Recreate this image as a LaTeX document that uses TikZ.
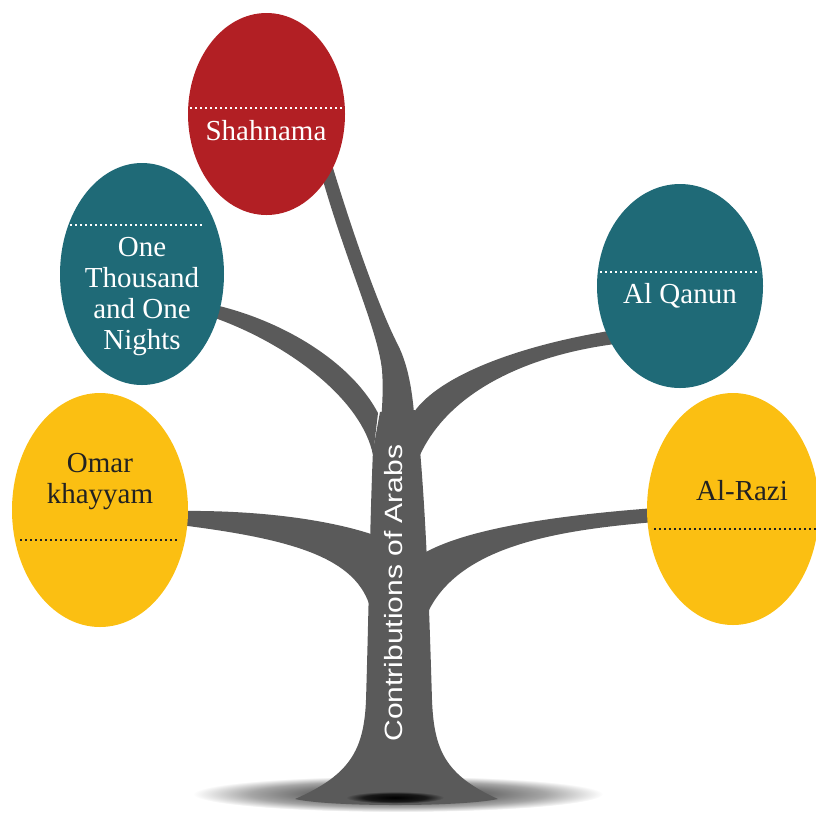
\documentclass[tikz,border=0pt]{standalone}
\usepackage{fontspec}
\setmainfont{Liberation Serif}
\setsansfont{Liberation Sans}
\usetikzlibrary{shapes.geometric}
\definecolor{cred}{HTML}{B21F24}
\definecolor{cteal}{HTML}{1F6A77}
\definecolor{cyel}{HTML}{FBBF12}
\definecolor{cgray}{HTML}{5A5A5A}
\definecolor{cdark}{HTML}{222222}
\pgfdeclareradialshading{groundsh}{\pgfpoint{0bp}{0bp}}{color(0bp)=(black!75); color(10bp)=(black!60); color(18bp)=(black!35); color(25bp)=(white); color(50bp)=(white)}
\pgfdeclareradialshading{holesh}{\pgfpoint{0bp}{0bp}}{color(0bp)=(black); color(16bp)=(black!90); color(25bp)=(cgray); color(50bp)=(cgray)}
\begin{document}
\begin{tikzpicture}[x=1pt,y=-1pt,
  bubble/.style={ellipse, inner sep=0pt, draw=none},
  lbl/.style={font=\fontsize{29}{31}\selectfont, align=center, inner sep=0pt},
  dotw/.style={draw=white, line width=1.8pt, dash pattern=on 1.8pt off 3.2pt},
  dotk/.style={draw=cdark, line width=1.8pt, dash pattern=on 1.8pt off 3.2pt},
  wood/.style={fill=cgray}]
\useasboundingbox (0,0) rectangle (816,815);
% ground shadow
\shade[shading=groundsh] (398,794) ellipse [x radius=205pt, y radius=18pt];
% trunk
\path[wood] (380,412) -- (373,450) .. controls (370,520) and (369,600) .. (366,700)
  .. controls (364,750) and (350,775) .. (295,799)
  .. controls (330,807) and (460,807) .. (498,799)
  .. controls (445,775) and (434,750) .. (432,700)
  .. controls (429,600) and (426,520) .. (420,450) -- (415,410) -- cycle;
% branch to Shahnama
\path[wood] (320,170) .. controls (345,260) and (378,330) .. (382,370)
  .. controls (384,395) and (381,420) .. (379,445)
  -- (416,445) -- (414,413) .. controls (412,390) and (408,365) .. (398,345)
  .. controls (380,310) and (355,240) .. (333,168) -- cycle;
% branch to One Thousand and One Nights
\path[wood] (215,305) .. controls (280,320) and (350,360) .. (378,413) -- (373,455)
  .. controls (362,400) and (290,345) .. (215,318) -- cycle;
% branch to Al Qanun
\path[wood] (414,412) .. controls (440,375) and (520,345) .. (615,330) -- (615,344)
  .. controls (530,355) and (450,390) .. (420,455) -- cycle;
% branch to Omar khayyam
\path[wood] (180,511) .. controls (260,510) and (330,520) .. (374,535) -- (372,615)
  .. controls (362,560) and (300,540) .. (180,525) -- cycle;
% branch to Al-Razi
\path[wood] (426,552) .. controls (470,528) and (560,515) .. (655,508) -- (655,522)
  .. controls (560,530) and (460,545) .. (428,612) -- cycle;
% dark hole at base
\shade[shading=holesh] (395,797.5) ellipse [x radius=49pt, y radius=6pt];
% trunk label
\node[font=\sffamily\fontsize{25}{25}\selectfont, text=white, rotate=90, xscale=1.2, inner sep=0pt] (title) at (394,593) {Contributions of Arabs};
% bubbles
\node[bubble, fill=cred, minimum width=157pt, minimum height=202pt] (sh) at (266.5,114) {};
\node[bubble, fill=cteal, minimum width=164pt, minimum height=222pt] (ot) at (142,274) {};
\node[bubble, fill=cyel, minimum width=176pt, minimum height=234pt] (om) at (100,510) {};
\node[bubble, fill=cteal, minimum width=166pt, minimum height=204pt] (aq) at (680,286) {};
\node[bubble, fill=cyel, minimum width=172pt, minimum height=232pt] (ar) at (733,509) {};
% dotted lines
\draw[dotw] (190,108) -- (344,108);
\draw[dotw] (70,225) -- (203,225);
\draw[dotk] (20,540) -- (178,540);
\draw[dotw] (600,272) -- (760,272);
\draw[dotk] (654,529) -- (816,529);
% labels
\node[lbl, text=white] (tsh) at (266,131) {Shahnama};
\node[lbl, text=white] (tot) at (142,297) {One\\Thousand\\and One\\Nights};
\node[lbl, text=cdark] (tom) at (100,482) {Omar\\khayyam};
\node[lbl, text=white] (taq) at (680,296) {Al Qanun};
\node[lbl, text=cdark] (tar) at (742,491) {Al-Razi};
\end{tikzpicture}
\end{document}
